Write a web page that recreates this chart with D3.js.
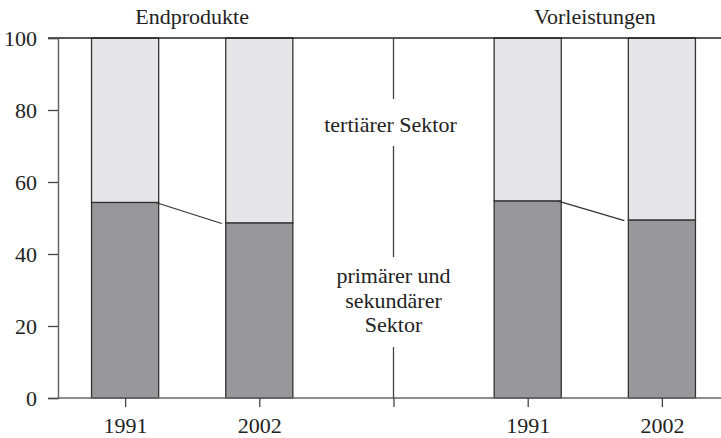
<!DOCTYPE html>
<meta charset="utf-8">
<style>
body { margin: 0; background: #fff; }
svg text { font-family: "Liberation Serif", "Times New Roman", Times, serif; fill: #222; }
</style>
<svg width="721" height="438"></svg>
<script src="https://d3js.org/d3.v7.min.js"></script>
<script>

// slots on the x axis, the middle one is only a separator
var slots = ["E1991", "E2002", "mid", "V1991", "V2002"];
var slotLabels = ["1991", "2002", "", "1991", "2002"];

// share of primary + secondary sector (percent), rest is tertiary
var bars = ["E1991", "E2002", "V1991", "V2002"];
var primSek = [54.3, 48.6, 54.7, 49.4];

var groups = ["Endprodukte", "Vorleistungen"];
var groupSlots = [["E1991", "E2002"], ["V1991", "V2002"]];

var yTicks = [0, 20, 40, 60, 80, 100];

var fs = 22;

var svg = d3.select("svg"),
    mLeft = 58, mRight = 729, mTop = 38, mBottom = 398;

var x = d3.scalePoint()
    .domain(slots)
    .range([mLeft, mRight])
    .padding(0.5);

var y = d3.scaleLinear()
    .domain([0, 100])
    .range([mBottom, mTop]);

var bw = x.step() * 0.5;

// tertiary part (light)
svg.selectAll(".tert")
  .data(bars)
  .enter().append("rect")
    .attr("x", function(d) { return x(d) - bw / 2; })
    .attr("y", y(100))
    .attr("width", bw)
    .attr("height", function(d, i) { return y(primSek[i]) - y(100); })
    .attr("fill", "#e6e6e8")
    .attr("stroke", "#333")
    .attr("stroke-width", 1.3);

// primary + secondary part (dark)
svg.selectAll(".prim")
  .data(bars)
  .enter().append("rect")
    .attr("x", function(d) { return x(d) - bw / 2; })
    .attr("y", function(d, i) { return y(primSek[i]); })
    .attr("width", bw)
    .attr("height", function(d, i) { return y(0) - y(primSek[i]); })
    .attr("fill", "#98979c")
    .attr("stroke", "#333")
    .attr("stroke-width", 1.3);

// connector lines between the two years
groupSlots.forEach(function(g) {
  var a = bars.indexOf(g[0]), b = bars.indexOf(g[1]);
  svg.append("line")
      .attr("x1", x(g[0]) + bw / 2 - 3)
      .attr("y1", y(primSek[a]))
      .attr("x2", x(g[1]) - bw / 2 - 4)
      .attr("y2", y(primSek[b]) + 0.5)
      .attr("stroke", "#333")
      .attr("stroke-width", 1.2);
});

// top line at 100
svg.append("line")
    .attr("x1", mLeft - 10).attr("x2", 721)
    .attr("y1", y(100)).attr("y2", y(100))
    .attr("stroke", "#222").attr("stroke-width", 1.5);

// y axis
var yAxis = svg.append("g")
    .attr("transform", "translate(" + mLeft + ",0)")
    .call(d3.axisLeft(y).tickValues(yTicks).tickSize(10).tickPadding(11));
yAxis.attr("font-family", null).attr("font-size", null);
yAxis.select(".domain").attr("stroke", "#666").attr("stroke-width", 1.5);
yAxis.selectAll(".tick line").attr("stroke", "#444").attr("stroke-width", 1.3);
yAxis.selectAll("text").attr("font-size", fs).attr("fill", "#222").attr("dy", "0.34em");

// x axis
var xAxis = svg.append("g")
    .attr("transform", "translate(0," + mBottom + ")")
    .call(d3.axisBottom(x).tickSize(9).tickPadding(10)
        .tickFormat(function(d, i) { return slotLabels[i]; }));
xAxis.attr("font-family", null).attr("font-size", null);
xAxis.select(".domain").attr("d", "M" + mLeft + ",0H721").attr("stroke", "#666").attr("stroke-width", 1.5);
xAxis.selectAll(".tick line").attr("stroke", "#444").attr("stroke-width", 1.3);
xAxis.selectAll("text").attr("font-size", fs).attr("fill", "#222");

// middle separator with gaps for the labels
var mx = x("mid");
[[mTop, 99], [146, 257], [347, mBottom]].forEach(function(s) {
  svg.append("line")
      .attr("x1", mx).attr("x2", mx)
      .attr("y1", s[0]).attr("y2", s[1])
      .attr("stroke", "#444").attr("stroke-width", 1.3);
});

svg.append("text")
    .attr("x", mx - 3).attr("y", 132)
    .attr("text-anchor", "middle")
    .attr("font-size", fs)
    .text("tertiärer Sektor");

["primärer und", "sekundärer", "Sektor"].forEach(function(t, i) {
  svg.append("text")
      .attr("x", mx).attr("y", 283 + i * 24.7)
      .attr("text-anchor", "middle")
      .attr("font-size", fs)
      .text(t);
});

// group titles
groups.forEach(function(g, i) {
  var s = groupSlots[i];
  svg.append("text")
      .attr("x", (x(s[0]) + x(s[1])) / 2)
      .attr("y", 24)
      .attr("text-anchor", "middle")
      .attr("font-size", fs)
      .text(g);
});

</script>
